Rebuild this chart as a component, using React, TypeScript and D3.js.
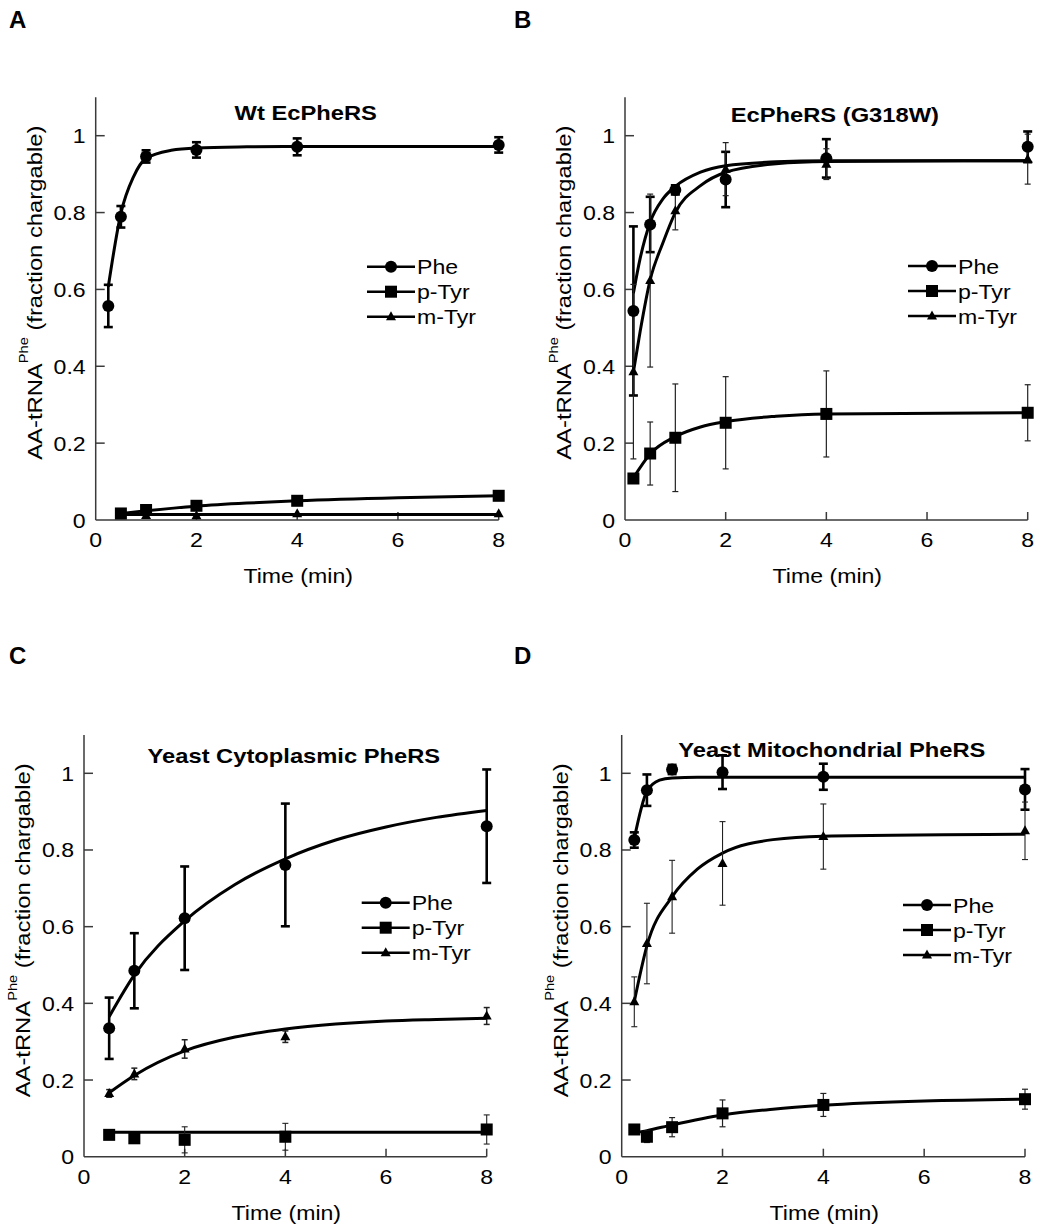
import * as d3 from "d3";

// ---- data ----
const seriesNames = ["Phe", "p-Tyr", "m-Tyr"];
const panelTitles = ["Wt EcPheRS", "EcPheRS (G318W)", "Yeast Cytoplasmic PheRS", "Yeast Mitochondrial PheRS"];
const panelLetters = ["A", "B", "C", "D"];
const xTicks = [0, 2, 4, 6, 8];
const yTicks = [0, 0.2, 0.4, 0.6, 0.8, 1];

// A: Wt EcPheRS
const aPheTime = [0.25, 0.5, 1, 2, 4, 8];
const aPhe = [0.557, 0.789, 0.946, 0.963, 0.971, 0.976];
const aPheErr = [0.055, 0.028, 0.016, 0.02, 0.022, 0.02];
const aTyrTime = [0.5, 1, 2, 4, 8];
const aPTyr = [0.017, 0.026, 0.037, 0.05, 0.063];
const aPTyrErr = [0, 0, 0, 0, 0];
const aMTyr = [0.014, 0.012, 0.011, 0.016, 0.016];
const aMTyrErr = [0, 0, 0, 0, 0];
const aPheFitTime = [0.25, 0.5, 0.75, 1, 1.5, 2, 3, 4, 8];
const aPheFit = [0.607, 0.798, 0.893, 0.941, 0.962, 0.968, 0.971, 0.972, 0.972];
const aPTyrFitTime = [0.5, 1, 2, 3, 4, 6, 8];
const aPTyrFit = [0.017, 0.024, 0.036, 0.044, 0.05, 0.058, 0.063];
const aMTyrFitTime = [0.5, 8];
const aMTyrFit = [0.014, 0.014];

// B: EcPheRS (G318W)
const bTime = [0.167, 0.5, 1, 2, 4, 8];
const bPhe = [0.544, 0.769, 0.859, 0.886, 0.941, 0.971];
const bPheErr = [0.22, 0.072, 0.012, 0.072, 0.05, 0.04];
const bPTyr = [0.108, 0.173, 0.214, 0.253, 0.276, 0.279];
const bPTyrErr = [0, 0.082, 0.14, 0.12, 0.112, 0.073];
const bMTyr = [0.386, 0.623, 0.805, 0.913, 0.926, 0.939];
const bMTyrErr = [0.227, 0.225, 0.05, 0.069, 0.04, 0.065];
const bFitTime = [0.167, 0.3, 0.5, 0.75, 1, 1.5, 2, 3, 4, 8];
const bPheFit = [0.59, 0.68, 0.775, 0.835, 0.868, 0.905, 0.922, 0.932, 0.935, 0.935];
const bMTyrFit = [0.385, 0.49, 0.625, 0.72, 0.8, 0.87, 0.905, 0.927, 0.933, 0.935];
const bPTyrFitTime = [0.167, 0.5, 1, 1.5, 2, 3, 4, 8];
const bPTyrFit = [0.11, 0.172, 0.217, 0.242, 0.256, 0.27, 0.276, 0.279];

// C: Yeast cytoplasmic PheRS
const cTime = [0.5, 1, 2, 4, 8];
const cPhe = [0.335, 0.485, 0.622, 0.761, 0.862];
const cPheErr = [0.08, 0.098, 0.135, 0.16, 0.148];
const cPTyr = [0.057, 0.048, 0.044, 0.052, 0.071];
const cPTyrErr = [0.01, 0.01, 0.034, 0.035, 0.038];
const cMTyr = [0.165, 0.216, 0.281, 0.313, 0.367];
const cMTyrErr = [0.01, 0.015, 0.024, 0.015, 0.022];
const cFitTime = [0.5, 1, 2, 3, 4, 5, 6, 7, 8];
const cPheFit = [0.365, 0.474, 0.615, 0.71, 0.777, 0.826, 0.86, 0.885, 0.903];
const cMTyrFit = [0.167, 0.212, 0.276, 0.312, 0.333, 0.346, 0.354, 0.358, 0.361];
const cPTyrFitTime = [0.5, 8];
const cPTyrFit = [0.064, 0.064];

// D: Yeast mitochondrial PheRS
const dTime = [0.25, 0.5, 1, 2, 4, 8];
const dPhe = [0.826, 0.956, 1.01, 1.003, 0.991, 0.958];
const dPheErr = [0.02, 0.041, 0.012, 0.044, 0.034, 0.053];
const dPTyr = [0.071, 0.052, 0.077, 0.113, 0.135, 0.15];
const dPTyrErr = [0.01, 0.015, 0.025, 0.035, 0.03, 0.026];
const dMTyr = [0.404, 0.556, 0.678, 0.765, 0.835, 0.85];
const dMTyrErr = [0.065, 0.105, 0.095, 0.109, 0.085, 0.075];
const dPheFitTime = [0.25, 0.5, 0.75, 1, 1.5, 2, 8];
const dPheFit = [0.83, 0.953, 0.982, 0.988, 0.99, 0.99, 0.99];
const dMTyrFitTime = [0.25, 0.5, 1, 1.5, 2, 3, 4, 8];
const dMTyrFit = [0.405, 0.55, 0.678, 0.75, 0.792, 0.827, 0.836, 0.841];
const dPTyrFitTime = [0.25, 0.5, 1, 2, 3, 4, 6, 8];
const dPTyrFit = [0.062, 0.068, 0.083, 0.109, 0.124, 0.134, 0.145, 0.15];

// ---- layout ----
const FONT = '"Liberation Sans", Arial, Helvetica, sans-serif';
const markers = ["circle", "square", "triangle"];
const mk = (t, v, e, ft, fv, ew, cap) => ({t, v, e, ft, fv, ew, cap});

const panels = [
    {x0: 95.7, x8: 498.7, y0: 520, y1: 135.7, lx: 367, ly: 266.7, titleDy: -15.7, lbl: [9, 28],
        series: [
            mk(aPheTime, aPhe, aPheErr, aPheFitTime, aPheFit, 2.6, 4.5),
            mk(aTyrTime, aPTyr, aPTyrErr, aPTyrFitTime, aPTyrFit, 1.2, 3),
            mk(aTyrTime, aMTyr, aMTyrErr, aMTyrFitTime, aMTyrFit, 1.2, 3),
        ]},
    {x0: 625, x8: 1027.7, y0: 520, y1: 135.7, lx: 908, ly: 266, titleDy: -14, lbl: [514, 28],
        series: [
            mk(bTime, bPhe, bPheErr, bFitTime, bPheFit, 2.6, 4.5),
            mk(bTime, bPTyr, bPTyrErr, bPTyrFitTime, bPTyrFit, 1.2, 3),
            mk(bTime, bMTyr, bMTyrErr, bFitTime, bMTyrFit, 1.2, 3),
        ]},
    {x0: 84, x8: 486.7, y0: 1156.7, y1: 773.3, lx: 361.7, ly: 902.7, titleDy: -10.6, lbl: [9, 664],
        series: [
            mk(cTime, cPhe, cPheErr, cFitTime, cPheFit, 2.6, 4.5),
            mk(cTime, cPTyr, cPTyrErr, cPTyrFitTime, cPTyrFit, 1.1, 3),
            mk(cTime, cMTyr, cMTyrErr, cFitTime, cMTyrFit, 1.5, 3),
        ]},
    {x0: 621.7, x8: 1025, y0: 1156.7, y1: 773.3, lx: 903, ly: 905, titleDy: -16.6, lbl: [514, 664],
        series: [
            mk(dTime, dPhe, dPheErr, dPheFitTime, dPheFit, 2.6, 4.5),
            mk(dTime, dPTyr, dPTyrErr, dPTyrFitTime, dPTyrFit, 1.2, 3),
            mk(dTime, dMTyr, dMTyrErr, dMTyrFitTime, dMTyrFit, 1.1, 3),
        ]},
];

const T = ({x, y, size = 21, sx = 1.1, anchor = "start", bold = false, rotate = 0, children}) => (
    <text
        transform={`translate(${x},${y})${rotate ? ` rotate(${rotate})` : ""} scale(${sx},1)`}
        fontSize={size}
        fontWeight={bold ? "bold" : "normal"}
        textAnchor={anchor}
        fill="#000">
        {children}
    </text>
);

const Marker = ({kind, x, y}) => {
    if (kind === "circle") return <circle cx={x} cy={y} r={6} fill="#000"/>;
    if (kind === "square") return <rect x={x - 6} y={y - 6} width={12} height={12} fill="#000"/>;
    return <path d={`M${x},${y - 5.5}L${x + 5},${y + 3.5}L${x - 5},${y + 3.5}Z`} fill="#000"/>;
};

const Panel = ({p, i}) => {
    const xs = d3.scaleLinear().domain([0, 8]).range([p.x0, p.x8]);
    const ys = d3.scaleLinear().domain([0, 1]).range([p.y0, p.y1]);
    const line = d3.line().x(d => xs(d[0])).y(d => ys(d[1])).curve(d3.curveMonotoneX);
    const axisColor = "#3a3a3a";
    const cx = (p.x0 + p.x8) / 2;

    return (
        <g>
            <T x={p.lbl[0]} y={p.lbl[1]} size={24} sx={1} bold>{panelLetters[i]}</T>
            <T x={cx + 8.5} y={p.y1 + p.titleDy} size={21} sx={1.13} anchor="middle" bold>{panelTitles[i]}</T>

            {/* axes */}
            <line x1={p.x0} x2={p.x0} y1={p.y0} y2={ys(1.1)} stroke={axisColor} strokeWidth={1.5}/>
            <line x1={p.x0} x2={p.x8} y1={p.y0} y2={p.y0} stroke={axisColor} strokeWidth={1.5}/>
            {yTicks.map(v => (
                <g key={"y" + v}>
                    {v > 0 && <line x1={p.x0} x2={p.x0 + 9} y1={ys(v)} y2={ys(v)} stroke={axisColor} strokeWidth={1.5}/>}
                    <T x={p.x0 - 10} y={ys(v) + 7.5} anchor="end">{d3.format("~g")(v)}</T>
                </g>
            ))}
            {xTicks.map(v => (
                <g key={"x" + v}>
                    {v > 0 && <line x1={xs(v)} x2={xs(v)} y1={p.y0} y2={p.y0 - 8} stroke={axisColor} strokeWidth={1.5}/>}
                    <T x={xs(v)} y={p.y0 + 27} anchor="middle">{String(v)}</T>
                </g>
            ))}
            <T x={cx + 1} y={p.y0 + 63} anchor="middle">Time (min)</T>
            <T x={p.x0 - 54} y={p.y1 + 157} size={19.5} sx={1.22} rotate={-90} anchor="middle">
                <tspan>AA-tRNA</tspan>
                <tspan dy={-13.5} fontSize={12}>Phe</tspan>
                <tspan dy={13.5}> (fraction chargable)</tspan>
            </T>

            {/* fitted curves */}
            {p.series.map((s, k) => (
                <path key={"f" + k} d={line(s.ft.map((t, j) => [t, s.fv[j]]))}
                      fill="none" stroke="#000" strokeWidth={3}/>
            ))}

            {/* error bars */}
            {p.series.map((s, k) => s.t.map((t, j) => {
                const e = s.e[j];
                if (!e) return null;
                const x = xs(t);
                const yt = ys(s.v[j] + e), yb = ys(s.v[j] - e);
                const col = k === 0 ? "#000" : "#222";
                return (
                    <g key={"e" + k + "-" + j} stroke={col} strokeWidth={s.ew}>
                        <line x1={x} x2={x} y1={yt} y2={yb}/>
                        <line x1={x - s.cap} x2={x + s.cap} y1={yt} y2={yt}/>
                        <line x1={x - s.cap} x2={x + s.cap} y1={yb} y2={yb}/>
                    </g>
                );
            }))}

            {/* data points */}
            {p.series.map((s, k) => s.t.map((t, j) => (
                <Marker key={"m" + k + "-" + j} kind={markers[k]} x={xs(t)} y={ys(s.v[j])}/>
            )))}

            {/* legend */}
            {seriesNames.map((n, k) => {
                const y = p.ly + k * 25;
                return (
                    <g key={"l" + n}>
                        <line x1={p.lx} x2={p.lx + 48} y1={y} y2={y} stroke="#000" strokeWidth={2.5}/>
                        <Marker kind={markers[k]} x={p.lx + 24} y={y}/>
                        <T x={p.lx + 50} y={y + 7.5}>{n}</T>
                    </g>
                );
            })}
        </g>
    );
};

const App = () => {
    return (
        <svg width={1037} height={1230}
             style={{position: "absolute", left: 0, top: 0, display: "block", background: "#fff"}}
             fontFamily={FONT}>
            <rect width={1037} height={1230} fill="#fff"/>
            {panels.map((p, i) => <Panel key={i} p={p} i={i}/>)}
        </svg>
    );
};

export default App;
